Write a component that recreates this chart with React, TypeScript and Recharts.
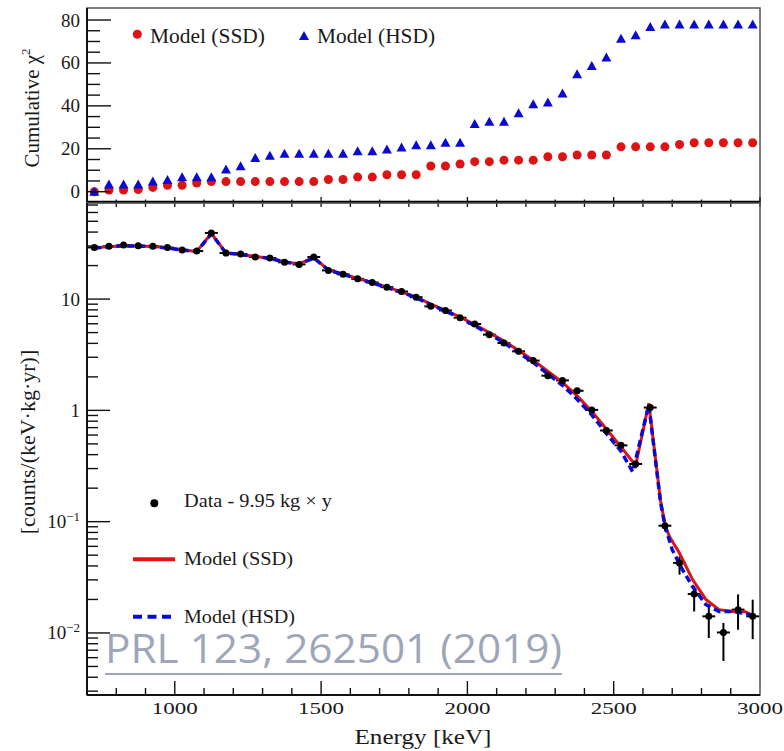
import React from 'react';
import {
  ComposedChart,
  Scatter,
  Line,
  XAxis,
  YAxis,
  ErrorBar,
  ReferenceArea,
  Legend,
  Label,
} from 'recharts';

const SERIF = "'Liberation Serif', 'Times New Roman', serif";
const RED = '#DC1414';
const BLUE = '#0A0AD2';
const INK = '#1a1a1a';

// 50 keV bins
const BIN_CENTERS = [
  725, 775, 825, 875, 925, 975, 1025, 1075, 1125, 1175, 1225, 1275, 1325, 1375, 1425, 1475,
  1525, 1575, 1625, 1675, 1725, 1775, 1825, 1875, 1925, 1975, 2025, 2075, 2125, 2175, 2225,
  2275, 2325, 2375, 2425, 2475, 2525, 2575, 2625, 2675, 2725, 2775, 2825, 2875, 2925, 2975,
];

// cumulative chi2 (top panel)
const CHI2_SSD = [
  0, 0.8, 0.8, 1.0, 2.0, 3.0, 3.0, 4.0, 4.7, 4.7, 4.7, 4.7, 4.7, 4.7, 4.7, 4.7,
  5.7, 5.7, 6.8, 6.8, 7.9, 7.9, 7.9, 12.0, 12.0, 12.9, 14.0, 14.0, 14.7, 14.7, 14.7,
  16.3, 16.3, 17.1, 17.1, 17.1, 20.9, 20.9, 20.9, 20.9, 22.0, 22.8, 22.8, 22.8, 22.8, 22.8,
];
const CHI2_HSD = [
  0, 3.4, 3.4, 3.4, 4.7, 5.4, 6.7, 6.7, 6.7, 10.4, 11.9, 15.7, 16.7, 17.7, 17.7, 17.7,
  17.7, 17.7, 18.8, 18.8, 19.7, 20.6, 21.7, 21.7, 22.8, 22.8, 31.5, 32.6, 32.6, 36.5, 40.8,
  41.6, 45.8, 54.7, 58.6, 62.5, 71.3, 72.9, 76.7, 77.9, 77.9, 77.9, 77.9, 77.9, 77.9, 77.9,
];

// measured spectrum, counts/(keV kg yr)
const DATA_RATE = [
  29.1, 29.8, 30.6, 30.2, 29.9, 29.0, 27.6, 27.0, 39.3, 25.9, 25.4, 23.9, 23.4, 21.4, 20.5, 23.9,
  18.1, 16.7, 15.2, 14.1, 12.8, 11.7, 10.4, 8.6, 7.9, 6.8, 5.97, 4.79, 4.03, 3.39, 2.8,
  2.05, 1.86, 1.5, 1.01, 0.66, 0.485, 0.33, 1.06, 0.092, 0.0426, 0.0224, 0.0141, 0.0101, 0.0162, 0.0141,
];
const DATA_ERR_LO = [
  0.3, 0.3, 0.3, 0.3, 0.3, 0.3, 0.3, 0.3, 0.4, 0.3, 0.3, 0.25, 0.25, 0.2, 0.2, 0.25,
  0.2, 0.2, 0.2, 0.15, 0.15, 0.15, 0.15, 0.12, 0.12, 0.1, 0.1, 0.09, 0.08, 0.07, 0.07,
  0.06, 0.06, 0.05, 0.045, 0.036, 0.03, 0.026, 0.05, 0.01, 0.0092, 0.0068, 0.0051, 0.0045, 0.0055, 0.0053,
];
const DATA_ERR_HI = [
  0.3, 0.3, 0.3, 0.3, 0.3, 0.3, 0.3, 0.3, 0.4, 0.3, 0.3, 0.25, 0.25, 0.2, 0.2, 0.25,
  0.2, 0.2, 0.2, 0.15, 0.15, 0.15, 0.15, 0.12, 0.12, 0.1, 0.1, 0.09, 0.08, 0.07, 0.07,
  0.06, 0.06, 0.05, 0.045, 0.036, 0.03, 0.026, 0.05, 0.012, 0.006, 0.004, 0.004, 0.0022, 0.006, 0.0058,
];
const DATA_X_ERR = 22;

// model curves
const SSD_ENERGY = [
  725, 775, 825, 875, 925, 975, 1025, 1075, 1125, 1175, 1225, 1275, 1325, 1375, 1425, 1475,
  1525, 1575, 1625, 1675, 1725, 1775, 1825, 1875, 1925, 1975, 2025, 2075, 2125, 2175, 2225,
  2275, 2325, 2375, 2425, 2475, 2525, 2575, 2620, 2660, 2675, 2690, 2725, 2770, 2815, 2860,
  2905, 2950, 2980,
];
const SSD_RATE = [
  28.8, 29.6, 30.2, 30.0, 29.7, 28.9, 27.7, 26.8, 38.8, 26.0, 25.3, 24.1, 23.3, 21.6, 20.7, 23.6,
  18.3, 16.8, 15.3, 14.1, 12.8, 11.6, 10.4, 9.0, 7.9, 6.9, 5.9, 5.0, 4.2, 3.45, 2.82,
  2.25, 1.78, 1.35, 0.98, 0.68, 0.47, 0.32, 1.16, 0.155, 0.095, 0.074, 0.052, 0.03, 0.02, 0.0162,
  0.0156, 0.0155, 0.0141,
];
const HSD_ENERGY = [
  725, 775, 825, 875, 925, 975, 1025, 1075, 1125, 1175, 1225, 1275, 1325, 1375, 1425, 1475,
  1525, 1575, 1625, 1675, 1725, 1775, 1825, 1875, 1925, 1975, 2025, 2075, 2125, 2175, 2225,
  2275, 2325, 2375, 2425, 2475, 2525, 2565, 2620, 2660, 2675, 2700, 2735, 2770, 2815, 2860,
  2905, 2950, 2980,
];
const HSD_RATE = [
  28.7, 29.5, 30.1, 29.9, 29.6, 28.8, 27.6, 26.7, 38.6, 25.9, 25.2, 24.0, 23.2, 21.5, 20.6, 23.4,
  18.2, 16.7, 15.2, 14.0, 12.7, 11.5, 10.3, 8.9, 7.8, 6.8, 5.75, 4.85, 4.05, 3.3, 2.7,
  2.12, 1.68, 1.26, 0.91, 0.62, 0.43, 0.28, 1.12, 0.15, 0.092, 0.056, 0.037, 0.026, 0.018, 0.0156,
  0.0156, 0.015, 0.0141,
];

const CHI2_TICKS = [0, 5, 10, 15, 20, 25, 30, 35, 40, 45, 50, 55, 60, 65, 70, 75, 80];
const ENERGY_TICKS = [
  800, 900, 1000, 1100, 1200, 1300, 1400, 1500, 1600, 1700, 1800, 1900, 2000,
  2100, 2200, 2300, 2400, 2500, 2600, 2700, 2800, 2900, 3000,
];
const RATE_TICKS = [
  0.003, 0.004, 0.005, 0.006, 0.007, 0.008, 0.009,
  0.01, 0.02, 0.03, 0.04, 0.05, 0.06, 0.07, 0.08, 0.09,
  0.1, 0.2, 0.3, 0.4, 0.5, 0.6, 0.7, 0.8, 0.9,
  1, 2, 3, 4, 5, 6, 7, 8, 9,
  10, 20, 30, 40, 50, 60, 70,
];

const CHI2_DOMAIN = [-4.8, 85.6];
const ENERGY_DOMAIN = [700, 3000];
const RATE_DOMAIN = [0.00277, 73];

const chiSsd = BIN_CENTERS.map((x, i) => ({ x, y: CHI2_SSD[i] }));
const chiHsd = BIN_CENTERS.map((x, i) => ({ x, y: CHI2_HSD[i] }));
const dataPts = BIN_CENTERS.map((x, i) => ({
  x,
  y: DATA_RATE[i],
  ex: DATA_X_ERR,
  ey: [DATA_ERR_LO[i], DATA_ERR_HI[i]],
}));
const ssdCurve = SSD_ENERGY.map((x, i) => ({ x, y: SSD_RATE[i] }));
const hsdCurve = HSD_ENERGY.map((x, i) => ({ x, y: HSD_RATE[i] }));

const RedDot = (p: any) => <circle cx={p.cx} cy={p.cy} r={4.5} fill={RED} />;
const BlueTriangle = (p: any) => (
  <polygon points={`${p.cx},${p.cy - 5} ${p.cx - 5},${p.cy + 4} ${p.cx + 5},${p.cy + 4}`} fill={BLUE} />
);
const BlackDot = (p: any) => <circle cx={p.cx} cy={p.cy} r={3.5} fill="#000" />;

const ChiTick = ({ x, y, payload }: any) => {
  const v = payload.value;
  const major = v % 20 === 0;
  return (
    <g>
      <line x1={x} x2={x + (major ? 24 : 13)} y1={y} y2={y} stroke="#111" strokeWidth={1.4} />
      {major && (
        <text x={x - 7} y={y + 6.5} textAnchor="end" fontSize={19} fontFamily={SERIF} fill={INK}>
          {v}
        </text>
      )}
    </g>
  );
};

const TopEnergyTick = ({ x, y, payload }: any) => {
  const major = payload.value % 500 === 0;
  return (
    <g>
      <line x1={x} x2={x} y1={y} y2={y - (major ? 5 : 2.5)} stroke="#111" strokeWidth={1.3} />
      <line x1={x} x2={x} y1={y} y2={y + 5} stroke="#111" strokeWidth={1.3} />
    </g>
  );
};

const EnergyTick = ({ x, y, payload }: any) => {
  const v = payload.value;
  const major = v % 500 === 0;
  return (
    <g>
      {v < 3000 && <line x1={x} x2={x} y1={y} y2={y - (major ? 14 : 7)} stroke="#111" strokeWidth={1.4} />}
      {major && (
        <text x={x} y={y + 18.5} textAnchor="middle" fontSize={17} fontFamily={SERIF} fill={INK}
          textLength={46} lengthAdjust="spacingAndGlyphs">
          {v}
        </text>
      )}
    </g>
  );
};

const RateTick = ({ x, y, payload }: any) => {
  const v = payload.value;
  const lg = Math.log10(v);
  const exp = Math.round(lg);
  const major = Math.abs(lg - exp) < 1e-6;
  return (
    <g>
      <line x1={x} x2={x + (major ? 23 : 11)} y1={y} y2={y} stroke="#111" strokeWidth={1.4} />
      {major && (
        <text x={x - 7} y={y + 6.5} textAnchor="end" fontSize={19} fontFamily={SERIF} fill={INK}>
          {exp >= 0 ? String(v) : (
            <>
              10<tspan dy={-7} fontSize={13}>{`\u2212${-exp}`}</tspan>
            </>
          )}
        </text>
      )}
    </g>
  );
};

const ChiTitle = () => (
  <text transform="translate(39,108) rotate(-90)" textAnchor="middle" fontSize={21} fontFamily={SERIF} fill={INK}>
    Cumulative χ<tspan dy={-9} fontSize={13}>2</tspan>
  </text>
);

const RateTitle = () => (
  <text transform="translate(35,242) rotate(-90)" textAnchor="middle" fontSize={22} fontFamily={SERIF} fill={INK}>
    [counts/(keV·kg·yr)]
  </text>
);

const EnergyTitle = () => (
  <text x={423} y={544} textAnchor="middle" fontSize={21} fontFamily={SERIF} fill={INK}
    textLength={137} lengthAdjust="spacingAndGlyphs">
    Energy [keV]
  </text>
);

const TopLegend = () => (
  <svg width={460} height={60} style={{ display: 'block' }}>
    <circle cx={137.3} cy={34.3} r={4.5} fill={RED} />
    <text x={150} y={43} fontSize={21} fontFamily={SERIF} fill={INK} textLength={115} lengthAdjust="spacingAndGlyphs">
      Model (SSD)
    </text>
    <polygon points="304,31 299,40 309,40" fill={BLUE} />
    <text x={317} y={43} fontSize={21} fontFamily={SERIF} fill={INK} textLength={118} lengthAdjust="spacingAndGlyphs">
      Model (HSD)
    </text>
  </svg>
);

const BottomLegend = () => (
  <svg width={360} height={160} style={{ display: 'block' }}>
    <circle cx={154.3} cy={23.3} r={4} fill="#000" />
    <text x={184} y={27.3} fontSize={19} fontFamily={SERIF} fill={INK} textLength={148} lengthAdjust="spacingAndGlyphs">
      Data - 9.95 kg × y
    </text>
    <line x1={133} x2={175} y1={79.3} y2={79.3} stroke={RED} strokeWidth={4} />
    <text x={184} y={85} fontSize={19} fontFamily={SERIF} fill={INK} textLength={109} lengthAdjust="spacingAndGlyphs">
      Model (SSD)
    </text>
    <line x1={133} x2={171} y1={136.7} y2={136.7} stroke={BLUE} strokeWidth={4} strokeDasharray="9 5.5" />
    <text x={184} y={142.7} fontSize={19} fontFamily={SERIF} fill={INK} textLength={111} lengthAdjust="spacingAndGlyphs">
      Model (HSD)
    </text>
  </svg>
);

export default function App() {
  return (
    <div style={{ position: 'absolute', left: 0, top: 0, width: 784, height: 751, background: '#fff' }}>
      <div style={{ position: 'absolute', left: 0, top: 0 }}>
        <ComposedChart width={784} height={210} margin={{ top: 8, right: 24, bottom: 0, left: 0 }}>
          <XAxis
            dataKey="x"
            type="number"
            domain={ENERGY_DOMAIN}
            ticks={ENERGY_TICKS}
            interval={0}
            height={8}
            allowDataOverflow
            tickLine={false}
            tickSize={0}
            tickMargin={0}
            axisLine={{ stroke: '#000', strokeWidth: 2.5 }}
            tick={TopEnergyTick}
          />
          <YAxis
            dataKey="y"
            type="number"
            domain={CHI2_DOMAIN}
            ticks={CHI2_TICKS}
            interval={0}
            width={87}
            allowDataOverflow
            tickLine={false}
            tickSize={0}
            tickMargin={0}
            axisLine={{ stroke: '#111', strokeWidth: 2 }}
            tick={ChiTick}
            label={<Label content={ChiTitle} />}
          />
          <ReferenceArea x1={700} x2={3000} y1={-4.8} y2={85.6} fill="none" stroke="#555" strokeWidth={1.5} ifOverflow="visible" />
          <Scatter data={chiSsd} shape={RedDot} isAnimationActive={false} />
          <Scatter data={chiHsd} shape={BlueTriangle} isAnimationActive={false} />
          <Legend
            content={TopLegend}
            layout="horizontal"
            verticalAlign="middle"
            align="center"
            wrapperStyle={{ left: 0, top: 0, width: 460, height: 60 }}
          />
        </ComposedChart>
      </div>
      <div style={{ position: 'absolute', left: 0, top: 200 }}>
        <ComposedChart width={784} height={551} margin={{ top: 3, right: 24, bottom: 0, left: 0 }}>
          <XAxis
            dataKey="x"
            type="number"
            domain={ENERGY_DOMAIN}
            ticks={ENERGY_TICKS}
            interval={0}
            height={56}
            allowDataOverflow
            tickLine={false}
            tickSize={0}
            tickMargin={0}
            axisLine={{ stroke: '#111', strokeWidth: 2 }}
            tick={EnergyTick}
            label={<Label content={EnergyTitle} />}
          />
          <YAxis
            dataKey="y"
            type="number"
            scale="log"
            domain={RATE_DOMAIN}
            ticks={RATE_TICKS}
            interval={0}
            width={87}
            allowDataOverflow
            tickLine={false}
            tickSize={0}
            tickMargin={0}
            axisLine={{ stroke: '#111', strokeWidth: 2 }}
            tick={RateTick}
            label={<Label content={RateTitle} />}
          />
          <ReferenceArea x1={700} x2={3000} y1={0.00277} y2={73} fill="none" stroke="#555" strokeWidth={1.5} ifOverflow="visible" />
          <Scatter data={dataPts} shape={BlackDot} isAnimationActive={false}>
            <ErrorBar dataKey="ex" direction="x" width={0} stroke="#000" strokeWidth={2} />
            <ErrorBar dataKey="ey" direction="y" width={0} stroke="#000" strokeWidth={2} />
          </Scatter>
          <Line data={ssdCurve} dataKey="y" type="linear" stroke={RED} strokeWidth={3} dot={false} isAnimationActive={false} />
          <Line data={hsdCurve} dataKey="y" type="linear" stroke={BLUE} strokeWidth={3.5} strokeDasharray="7 4" dot={false} isAnimationActive={false} />
          <Legend
            content={BottomLegend}
            layout="horizontal"
            verticalAlign="middle"
            align="center"
            wrapperStyle={{ left: 0, top: 280, width: 360, height: 160 }}
          />
        </ComposedChart>
      </div>
      <svg width={784} height={751} style={{ position: 'absolute', left: 0, top: 0, pointerEvents: 'none' }}>
        <text x={105} y={663} fontSize={40} fontFamily="'Open Sans', 'Noto Sans', sans-serif" fill="#A0A6B9"
          textLength={457} lengthAdjust="spacingAndGlyphs">
          PRL 123, 262501 (2019)
        </text>
        <line x1={105} x2={562} y1={674} y2={674} stroke="#A0A6B9" strokeWidth={2} />
      </svg>
    </div>
  );
}
